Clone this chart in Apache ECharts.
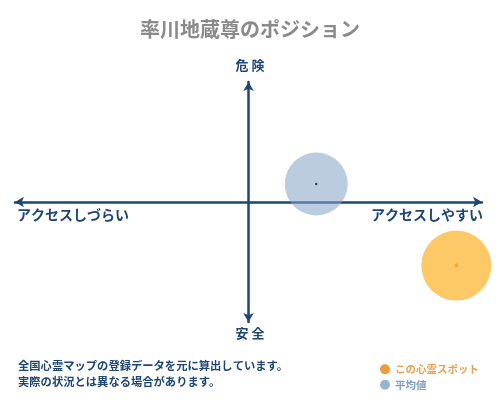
<!DOCTYPE html>
<html><head><meta charset="utf-8">
<script src="https://cdn.jsdelivr.net/npm/echarts@6/dist/echarts.min.js"></script>
<style>html,body{margin:0;padding:0;background:#fff}#c{width:500px;height:400px}</style>
</head><body><div id="c"></div>
<script>
const titleText = '率川地蔵尊のポジション';
const seriesNames = ['この心霊スポット', '平均値'];
const spotPoint = [8.9, -5.3];
const avgPoint = [2.9, 1.5];
const axisLabels = { top: '危 険', bottom: '安 全', left: 'アクセスしづらい', right: 'アクセスしやすい' };
const notes = ['全国心霊マップの登録データを元に算出しています。', '実際の状況とは異なる場合があります。'];

const font = '"Noto Sans CJK JP", sans-serif';
const navy = '#1d4673';
const chart = echarts.init(document.getElementById('c'));
chart.setOption({
  animation: false,
  title: { text: titleText, left: 'center', top: 14,
    textStyle: { fontFamily: font, fontSize: 20, fontWeight: 'bold', color: '#8a8a8a' } },
  grid: { left: 15, right: 18, top: 82, bottom: 78 },
  xAxis: { type: 'value', min: -10, max: 10, axisLabel: { show: false }, axisTick: { show: false }, splitLine: { show: false },
    axisLine: { onZero: true, symbol: ['arrow', 'arrow'], symbolSize: [8, 9], lineStyle: { color: navy, width: 2.5 } } },
  yAxis: { type: 'value', min: -10, max: 10, axisLabel: { show: false }, axisTick: { show: false }, splitLine: { show: false },
    axisLine: { onZero: true, symbol: ['arrow', 'arrow'], symbolSize: [8, 9], lineStyle: { color: navy, width: 2.5 } } },
  legend: {
    orient: 'vertical', left: 375, top: 359, itemWidth: 10, itemHeight: 10, itemGap: 5, icon: 'circle',
    textStyle: { fontFamily: font, fontSize: 10.5, fontWeight: 'bold' },
    data: [
      { name: seriesNames[0], itemStyle: { color: '#ee9a3c' }, textStyle: { color: '#e9a04a' } },
      { name: seriesNames[1], itemStyle: { color: '#7ea2c4' }, textStyle: { color: '#7f9fc0' } }
    ]
  },
  series: [
    { name: seriesNames[0], type: 'scatter', symbolSize: 70, z: 2,
      itemStyle: { color: '#fdc866', opacity: 1 }, data: [spotPoint] },
    { name: seriesNames[1], type: 'scatter', symbolSize: 63, z: 2,
      itemStyle: { color: 'rgba(135,164,200,0.7)' }, data: [avgPoint] },
    { name: 'spotDot', type: 'scatter', symbolSize: 4, z: 3, silent: true,
      itemStyle: { color: '#f0a020' }, data: [spotPoint] },
    { name: 'avgDot', type: 'scatter', symbolSize: 2.5, z: 3, silent: true,
      itemStyle: { color: '#222' }, data: [avgPoint] }
  ],
  graphic: [
    { type: 'text', left: 'center', top: 59, style: { text: axisLabels.top, font: 'bold 13px ' + font, fill: navy } },
    { type: 'text', left: 'center', top: 327, style: { text: axisLabels.bottom, font: 'bold 13px ' + font, fill: navy } },
    { type: 'text', left: 17, top: 208, style: { text: axisLabels.left, font: 'bold 14px ' + font, fill: navy } },
    { type: 'text', right: 17, top: 208, style: { text: axisLabels.right, font: 'bold 14px ' + font, fill: navy } },
    { type: 'text', left: 18, top: 360, style: { text: notes[0], font: 'bold 11.3px ' + font, fill: navy } },
    { type: 'text', left: 18, top: 376, style: { text: notes[1], font: 'bold 11.3px ' + font, fill: navy } }
  ]
});
</script></body></html>
